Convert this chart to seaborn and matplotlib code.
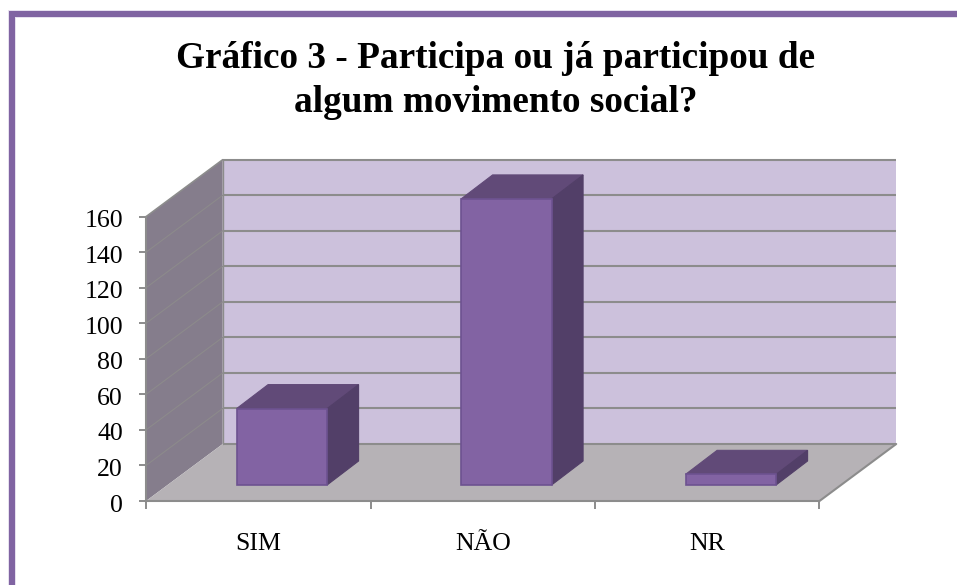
import matplotlib
matplotlib.use("Agg")
import matplotlib.pyplot as plt
from matplotlib.patches import Polygon, Rectangle
from matplotlib.transforms import ScaledTranslation
import pandas as pd
import seaborn as sns

# dados do grafico
categorias = ["SIM", "NÃO", "NR"]
valores = [43, 161, 6]
y_ticks = [0, 20, 40, 60, 80, 100, 120, 140, 160]
titulo = "Gráfico 3 - Participa ou já participou de\nalgum movimento social?"

# cores
roxo = "#8263a3"
roxo_topo = "#614a78"
roxo_lado = "#523f68"
roxo_borda = "#6d5290"
parede_fundo = "#ccc1dc"
parede_lado = "#857d8c"
chao = "#b6b2b6"
cinza = "#8c8c8c"

sns.set_style("white")
plt.rcParams["font.family"] = ["Liberation Serif", "DejaVu Serif"]

W, H = 957, 585
fig = plt.figure(figsize=(W / 100, H / 100), dpi=100)
# area do grafico em pixels: x 146-819.5, y 216.7-501
ax = fig.add_axes([146 / W, 1 - 501 / H, 673.5 / W, 284.3 / H])
ax.patch.set_alpha(0)

df = pd.DataFrame({"categoria": categorias, "valor": valores})
sns.barplot(data=df, x="categoria", y="valor", color=roxo, saturation=1, width=0.403,
            edgecolor=roxo_borda, linewidth=1.2, ax=ax)
ax.set_xlim(-0.5, 2.5)
ax.set_ylim(0, 160)

px_x = 3 / 673.5   # unidade x por pixel
px_y = 160 / 284.3  # unidade y por pixel

# profundidade da parede e das barras
prof_x, prof_y = 76.7 * px_x, 57 * px_y
barra_dx, barra_dy = 23.6 * px_x, 16 * px_y
barra_px, barra_py = 31.5 * px_x, 24 * px_y


def poligono(pts, cor, z, borda="none", lw=0):
    ax.add_patch(Polygon(pts, closed=True, facecolor=cor, edgecolor=borda, linewidth=lw,
                         zorder=z, clip_on=False))


x0, x1 = -0.5, 2.5
y_max = y_ticks[-1]
# parede de fundo, parede lateral e chao
poligono([(x0 + prof_x, prof_y), (x1 + prof_x, prof_y), (x1 + prof_x, y_max + prof_y),
          (x0 + prof_x, y_max + prof_y)], parede_fundo, 0.2)
poligono([(x0, 0), (x0 + prof_x, prof_y), (x0 + prof_x, y_max + prof_y), (x0, y_max)], parede_lado, 0.2)
poligono([(x0, 0), (x1, 0), (x1 + prof_x, prof_y), (x0 + prof_x, prof_y)], chao, 0.3)

# linhas de grade
for v in y_ticks:
    ax.plot([x0 + prof_x, x1 + prof_x], [v + prof_y, v + prof_y], color=cinza, lw=1.5,
            zorder=0.4, clip_on=False, solid_capstyle="butt")
    if 0 < v < y_max:
        ax.plot([x0, x0 + prof_x], [v, v + prof_y], color="#8c8a8b", lw=0.8, zorder=0.4, clip_on=False)
ax.plot([x0, x0 + prof_x], [y_max, y_max + prof_y], color=cinza, lw=1.2, zorder=0.4, clip_on=False)
ax.plot([x0 + prof_x, x0 + prof_x], [prof_y, y_max + prof_y], color=cinza, lw=1.0, zorder=0.4, clip_on=False)
ax.plot([x1, x1 + prof_x], [0, prof_y], color=cinza, lw=1.5, zorder=0.4, clip_on=False)

# desloca as barras para o meio do chao e desenha topo e lado
for p in ax.patches:
    if not isinstance(p, Rectangle):
        continue
    p.set_x(p.get_x() + barra_dx)
    p.set_y(p.get_y() + barra_dy)
    p.set_zorder(2)
    p.set_clip_on(False)
    xa, xb = p.get_x(), p.get_x() + p.get_width()
    ya, yb = p.get_y(), p.get_y() + p.get_height()
    poligono([(xa, yb), (xb, yb), (xb + barra_px, yb + barra_py), (xa + barra_px, yb + barra_py)],
             roxo_topo, 1.8, roxo_topo, 0.8)
    poligono([(xb, ya), (xb + barra_px, ya + barra_py), (xb + barra_px, yb + barra_py), (xb, yb)],
             roxo_lado, 1.9, roxo_lado, 0.8)

# eixos
sns.despine(ax=ax, top=True, right=True)
for s in ["left", "bottom"]:
    ax.spines[s].set_color(cinza)
    ax.spines[s].set_linewidth(1.5)
ax.set_xlabel("")
ax.set_ylabel("")
ax.set_yticks(y_ticks)
ax.set_xticks([-0.5, 0.5, 1.5, 2.5], labels=[])
ax.set_xticks([0, 1, 2], labels=categorias, minor=True)
ax.tick_params(axis="y", left=True, length=5, width=1.4, color=cinza, labelsize=18.6, labelcolor="black", pad=11.5)
ax.tick_params(axis="x", which="major", bottom=True, length=6, width=1.4, color=cinza)
ax.tick_params(axis="x", which="minor", bottom=False, length=0, labelsize=18.6, labelcolor="black", pad=23)

# os numeros ficam um pouco abaixo do traco
desce = ScaledTranslation(0, -2 / 100, fig.dpi_scale_trans)
for t in ax.get_yticklabels():
    t.set_transform(t.get_transform() + desce)

# titulo
fig.text(495.8 / W, 1 - 80.5 / H, titulo, ha="center", va="center", fontsize=26.85, fontweight="bold",
         color="black", linespacing=1.3)

# moldura roxa (so em cima e a esquerda)
fig.add_artist(Rectangle((8 / W, 0), 7.5 / W, 1 - 10 / H, transform=fig.transFigure, color="#e6e0ef", lw=0))
fig.add_artist(Rectangle((8 / W, 1 - 17.5 / H), 1 - 8 / W, 7.5 / H, transform=fig.transFigure, color="#e6e0ef", lw=0))
fig.add_artist(Rectangle((9 / W, 0), 5.5 / W, 1 - 11 / H, transform=fig.transFigure, color="#8064a2", lw=0))
fig.add_artist(Rectangle((9 / W, 1 - 16.5 / H), 1 - 9 / W, 5.5 / H, transform=fig.transFigure, color="#8064a2", lw=0))

fig.savefig("out.png", dpi=100)
